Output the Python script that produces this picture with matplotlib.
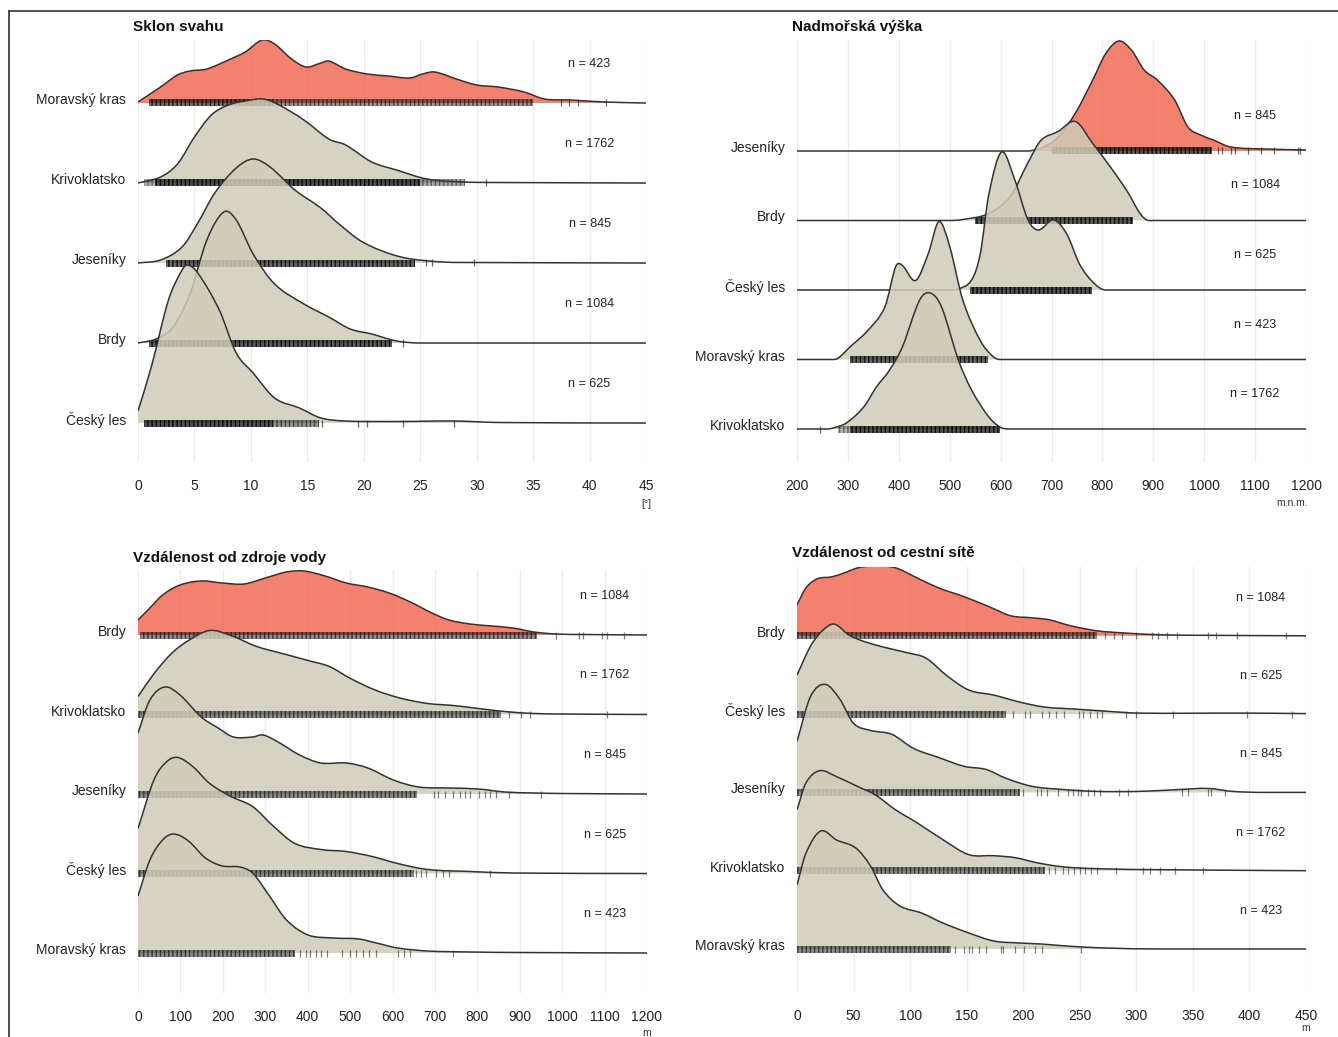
import numpy as np
import matplotlib.pyplot as plt
from matplotlib.patches import Rectangle, PathPatch
from matplotlib.path import Path
from matplotlib.lines import Line2D

plt.rcParams['font.family'] = ['Liberation Sans', 'DejaVu Sans']

W, H = 1338, 1037
RED = '#f26b55'
BEIGE = '#d0ccb8'
LINE = '#333333'

# ---- Sklon svahu (degrees) ----
sklon_names = ['Moravský kras', 'Krivoklatsko', 'Jeseníky', 'Brdy', 'Český les']
sklon_n = [423, 1762, 845, 1084, 625]
sklon_x = [
    [0, 2, 3.5, 4.6, 6.1, 8, 9.5, 11, 12.1, 13.6, 14.9, 16.2, 16.9, 18.4, 20.3, 22.2, 24.1, 25.2, 26.3, 28.2, 30, 31.9, 34.2, 36, 38.3, 41.3, 45],
    [0, 2, 3.5, 5, 6.5, 8, 9.5, 11.1, 12.5, 14.7, 16.9, 18.4, 20.7, 22.9, 25.6, 28.9, 32, 45],
    [0, 2, 3.9, 5.3, 6.8, 8.7, 10.2, 11.7, 13.9, 16.2, 17.7, 19.6, 21.4, 23.7, 27, 30, 45],
    [0, 1.6, 3.1, 4.6, 6.1, 7.6, 8.7, 10.2, 12.1, 14.7, 16.9, 18.8, 20.7, 22.9, 25, 45],
    [0, 1.2, 2.7, 3.9, 4.4, 5.3, 7.2, 8.7, 10.2, 12.1, 14.3, 16.2, 18.4, 23, 28, 32, 45],
]
sklon_h = [
    [1, 16, 28, 32, 34, 43, 51, 63, 59, 44, 36, 40, 42, 34, 29, 27, 25, 29, 31, 24, 18, 16, 11, 4, 3, 1, 0],
    [0, 6, 19, 46, 68, 78, 82, 84, 78, 63, 44, 38, 21, 13, 4, 1, 0.5, 0],
    [0, 3, 16, 40, 70, 95, 104, 96, 73, 55, 40, 23, 13, 5, 1, 0.5, 0],
    [0, 4, 16, 49, 103, 131, 123, 89, 59, 39, 26, 14, 9, 2, 0, 0],
    [12, 57, 123, 153, 158, 150, 113, 70, 50, 25, 15, 5, 2, 1.5, 2, 0.5, 0],
]
sklon_rug_spans = [
    [(1, 12, 0.75), (12, 35, 0.55)],
    [(0.5, 1.5, 0.4), (1.5, 25, 0.9), (25, 29, 0.45)],
    [(2.5, 24.5, 0.8)],
    [(1, 22.5, 0.85)],
    [(0.5, 12, 0.9), (12, 16, 0.55)],
]
sklon_rug_ticks = [
    [37.5, 38.2, 39, 41.5],
    [30.8],
    [25.5, 26, 29.8],
    [23.5],
    [16.3, 19.5, 20.3, 23.5, 28],
]

# ---- Nadmořská výška (m n. m.) ----
vyska_names = ['Jeseníky', 'Brdy', 'Český les', 'Moravský kras', 'Krivoklatsko']
vyska_n = [845, 1084, 625, 423, 1762]
vyska_x = [
    [200, 650, 680, 713, 747, 781, 806, 832, 857, 882, 908, 942, 968, 993, 1018, 1052, 1120, 1200],
    [200, 500, 526, 577, 619, 653, 679, 713, 747, 781, 815, 849, 874, 891, 1200],
    [200, 500, 517, 543, 560, 577, 602, 628, 653, 674, 704, 730, 755, 781, 806, 1200],
    [200, 270, 280, 305, 339, 373, 394, 407, 433, 458, 479, 500, 526, 560, 585, 600, 1200],
    [200, 260, 271, 297, 331, 356, 382, 407, 441, 462, 484, 517, 543, 577, 602, 620, 1200],
]
vyska_h = [
    [0, 0, 3, 14, 38, 71, 97, 110, 101, 81, 71, 51, 24, 16, 11, 4, 2, 1],
    [0, 0, 1, 7, 24, 57, 80, 89, 99, 77, 54, 29, 7, 0, 0],
    [0, 0, 1, 10, 36, 96, 138, 110, 71, 60, 70, 56, 26, 8, 0, 0],
    [0, 0, 1, 13, 29, 53, 93, 94, 79, 106, 138, 113, 59, 19, 3, 0, 0],
    [0, 0, 1, 6, 22, 42, 59, 82, 129, 136, 122, 69, 39, 12, 1, 0, 0],
]
vyska_rug_spans = [
    [(700, 1015, 0.85)],
    [(550, 860, 0.85)],
    [(540, 780, 0.9)],
    [(305, 575, 0.8)],
    [(280, 305, 0.4), (305, 598, 0.9)],
]
vyska_rug_ticks = [
    [1027, 1035, 1052, 1061, 1086, 1112, 1137, 1184, 1188],
    [],
    [],
    [],
    [246],
]

# ---- Vzdálenost od zdroje vody (m) ----
voda_names = ['Brdy', 'Krivoklatsko', 'Jeseníky', 'Český les', 'Moravský kras']
voda_n = [1084, 1762, 845, 625, 423]
voda_x = [
    [0, 28, 58, 99, 149, 199, 250, 300, 350, 391, 441, 491, 542, 592, 642, 693, 733, 783, 834, 884, 934, 985, 1050, 1200],
    [0, 38, 79, 119, 169, 219, 280, 340, 401, 451, 501, 562, 622, 683, 743, 803, 864, 934, 1000, 1200],
    [0, 28, 63, 99, 149, 189, 225, 270, 295, 330, 381, 431, 491, 542, 602, 662, 733, 803, 864, 934, 1000, 1200],
    [0, 38, 68, 94, 129, 169, 219, 270, 320, 370, 431, 491, 552, 612, 683, 783, 884, 1200],
    [0, 28, 58, 84, 119, 159, 199, 240, 270, 310, 350, 401, 461, 521, 562, 612, 683, 783, 900, 1200],
]
voda_h = [
    [15, 27, 40, 50, 54, 52, 51, 57, 63, 64, 59, 52, 48, 42, 33, 22, 15, 11, 9, 7, 3, 1, 0.5, 0],
    [18, 41, 61, 74, 84, 79, 68, 61, 54, 48, 36, 24, 16, 11, 9, 6, 3, 1, 0.5, 0],
    [61, 94, 107, 99, 77, 66, 57, 57, 59, 52, 39, 31, 31, 26, 14, 7, 6, 5, 2, 1, 0.5, 0],
    [45, 94, 112, 116, 107, 90, 77, 67, 47, 30, 24, 22, 17, 10, 4, 2, 0.5, 0],
    [57, 93, 113, 119, 112, 95, 87, 86, 80, 57, 33, 18, 15, 14, 10, 5, 2, 1, 0.5, 0],
]
voda_rug_spans = [
    [(5, 940, 0.6)],
    [(0, 855, 0.6)],
    [(0, 657, 0.6)],
    [(0, 650, 0.6)],
    [(0, 370, 0.6)],
]
voda_rug_ticks = [
    [985, 1040, 1050, 1095, 1105, 1146],
    [874, 904, 924, 1105],
    [698, 708, 723, 743, 758, 770, 783, 803, 818, 830, 844, 874, 949],
    [655, 668, 680, 703, 718, 733, 829],
    [382, 395, 405, 420, 432, 445, 481, 500, 515, 530, 545, 562, 612, 628, 642, 743],
]

# ---- Vzdálenost od cestní sítě (m) ----
cesta_names = ['Brdy', 'Český les', 'Jeseníky', 'Krivoklatsko', 'Moravský kras']
cesta_n = [1084, 625, 845, 1762, 423]
cesta_x = [
    [0, 8, 18, 31, 42, 54, 69, 87, 106, 125, 148, 170, 189, 208, 223, 242, 265, 287, 321, 360, 450],
    [0, 12, 23, 33, 46, 61, 80, 99, 114, 133, 152, 174, 197, 219, 246, 272, 302, 397, 450],
    [0, 12, 25, 38, 50, 65, 84, 103, 125, 148, 167, 185, 208, 234, 265, 302, 340, 363, 385, 410, 450],
    [0, 8, 20, 35, 54, 69, 87, 106, 129, 152, 174, 193, 212, 234, 265, 321, 450],
    [0, 8, 21, 35, 52, 65, 76, 91, 110, 129, 152, 174, 197, 216, 238, 272, 320, 450],
]
cesta_h = [
    [31, 48, 57, 59, 63, 68, 70, 68, 58, 48, 39, 29, 20, 18, 16, 10, 5, 3, 1, 0.5, 0],
    [39, 68, 84, 90, 79, 72, 66, 61, 56, 38, 24, 19, 12, 7, 5, 3, 1, 1, 0.5],
    [51, 96, 108, 93, 69, 62, 58, 44, 35, 26, 23, 14, 6, 3, 1, 1, 3, 4, 1, 0, 0],
    [61, 88, 100, 94, 84, 76, 61, 48, 31, 16, 15, 13, 8, 4, 2, 1, 0],
    [64, 96, 118, 109, 101, 83, 59, 43, 36, 26, 16, 8, 6, 5, 3, 1, 0, 0],
]
cesta_rug_spans = [
    [(0, 265, 0.6)],
    [(0, 185, 0.6)],
    [(0, 197, 0.6)],
    [(0, 219, 0.6)],
    [(0, 136, 0.6)],
]
cesta_rug_ticks = [
    [272, 280, 287, 300, 314, 319, 327, 336, 363, 370, 389, 432],
    [191, 202, 206, 217, 223, 229, 236, 249, 253, 259, 265, 270, 291, 300, 332, 398, 438],
    [200, 212, 216, 221, 231, 240, 244, 248, 251, 257, 263, 268, 285, 293, 340, 346, 363, 366, 378],
    [223, 228, 235, 240, 245, 250, 255, 260, 265, 282, 306, 312, 321, 334, 359],
    [140, 148, 152, 155, 161, 167, 180, 182, 193, 201, 210, 217, 251],
]


def fig_box(left, right, top, bottom):
    return [left / W, 1 - bottom / H, (right - left) / W, (bottom - top) / H]


def curve_verts(x, y, floor):
    # cubic Hermite segments through the points, slopes from neighbouring points
    n = len(x)
    verts = [(x[0], y[0])]
    codes = [Path.MOVETO]
    for i in range(n - 1):
        i0 = max(i - 1, 0)
        i3 = min(i + 2, n - 1)
        s1 = (y[i + 1] - y[i0]) / (x[i + 1] - x[i0])
        s2 = (y[i3] - y[i]) / (x[i3] - x[i])
        dx = x[i + 1] - x[i]
        c1 = (x[i] + dx / 3, max(y[i] + s1 * dx / 3, floor))
        c2 = (x[i + 1] - dx / 3, max(y[i + 1] - s2 * dx / 3, floor))
        verts += [c1, c2, (x[i + 1], y[i + 1])]
        codes += [Path.CURVE4] * 3
    return verts, codes


def draw_panel(fig, box, xlim, xticks, base_px, spacing, title, title_xy, unit, unit_xy,
               n_x, n_off, names, ns, xs, hs, spans, ticks, rug_alpha):
    left, right, top, bottom = box
    ax = fig.add_axes(fig_box(left, right, top, bottom))
    # y axis in pixels above the lowest baseline
    ax.set_xlim(*xlim)
    ax.set_ylim(-(bottom - base_px), base_px - top)
    k = len(names)
    bases = [(k - 1 - i) * spacing for i in range(k)]
    for i in range(k):
        b = bases[i]
        x = np.array(xs[i], dtype=float)
        y = b + np.array(hs[i], dtype=float)
        z = 2 + i * 3
        col = RED if i == 0 else BEIGE
        verts, codes = curve_verts(x, y, b)
        fill_path = Path(verts + [(x[-1], b), (x[0], b), (x[0], y[0])],
                         codes + [Path.LINETO, Path.LINETO, Path.CLOSEPOLY])
        ax.add_patch(PathPatch(fill_path, facecolor=col, alpha=0.85, lw=0, zorder=z))
        for a, e, al in spans[i]:
            ax.add_patch(Rectangle((a, b - 3.5), e - a, 7, facecolor=(0, 0, 0, al * 0.75),
                                   edgecolor=(0, 0, 0, al), hatch='||||', lw=0, zorder=z + 1))
        if ticks[i]:
            ax.vlines(ticks[i], b - 3.5, b + 3.5, color='black', alpha=rug_alpha, lw=0.9, zorder=z + 1)
        ax.add_patch(PathPatch(Path(verts, codes), facecolor='none', edgecolor=LINE,
                               lw=1.1, zorder=z + 2))
        ax.text(n_x, b + n_off, f'n = {ns[i]}', ha='center', va='center', fontsize=9,
                color='#222222', zorder=40)
    # category names sit a little above their baselines
    ax.set_yticks([b + 4.5 for b in bases])
    ax.set_yticklabels(names, fontsize=10, color='#222222')
    ax.set_xticks(xticks)
    ax.set_xticklabels([str(t) for t in xticks], fontsize=10, color='#222222')
    ax.tick_params(axis='both', length=0)
    ax.tick_params(axis='y', pad=8.5)
    ax.tick_params(axis='x', pad=12)
    ax.xaxis.grid(True, color='#ebebeb', lw=1.0, zorder=0)
    ax.set_axisbelow(True)
    for s in ax.spines.values():
        s.set_visible(False)
    fig.text(title_xy[0] / W, 1 - title_xy[1] / H, title, fontsize=11, fontweight='bold',
             ha='left', va='center', color='#111111')
    fig.text(unit_xy[0] / W, 1 - unit_xy[1] / H, unit, fontsize=7.5, ha='center', va='center',
             color='#333333')
    return ax


fig = plt.figure(figsize=(W / 100, H / 100), dpi=100)

draw_panel(fig, (138, 646, 40, 462), (0, 45), list(range(0, 50, 5)), 423, 80,
           'Sklon svahu', (133, 27), '[°]', (646, 504), 40, 39,
           sklon_names, sklon_n, sklon_x, sklon_h, sklon_rug_spans, sklon_rug_ticks, 0.6)

draw_panel(fig, (797, 1306, 40, 462), (200, 1200), list(range(200, 1300, 100)), 429, 69.5,
           'Nadmořská výška', (792, 27), 'm.n.m.', (1292, 503), 1100, 35,
           vyska_names, vyska_n, vyska_x, vyska_h, vyska_rug_spans, vyska_rug_ticks, 0.6)

draw_panel(fig, (138, 647, 570, 993), (0, 1200), list(range(0, 1300, 100)), 953, 79.5,
           'Vzdálenost od zdroje vody', (133, 558), 'm', (647, 1033), 1100, 39,
           voda_names, voda_n, voda_x, voda_h, voda_rug_spans, voda_rug_ticks, 0.5)

draw_panel(fig, (797, 1306, 567, 992), (0, 450), list(range(0, 500, 50)), 949, 78.3,
           'Vzdálenost od cestní sítě', (792, 553), 'm', (1306, 1028), 410, 38,
           cesta_names, cesta_n, cesta_x, cesta_h, cesta_rug_spans, cesta_rug_ticks, 0.5)

# frame lines along the top and the left edge
fig.add_artist(Line2D([9 / W, 1], [1 - 11 / H, 1 - 11 / H], color='#333333', lw=1.2))
fig.add_artist(Line2D([9 / W, 9 / W], [0, 1 - 11 / H], color='#333333', lw=1.2))

fig.savefig('out.png', dpi=100, facecolor='white')
